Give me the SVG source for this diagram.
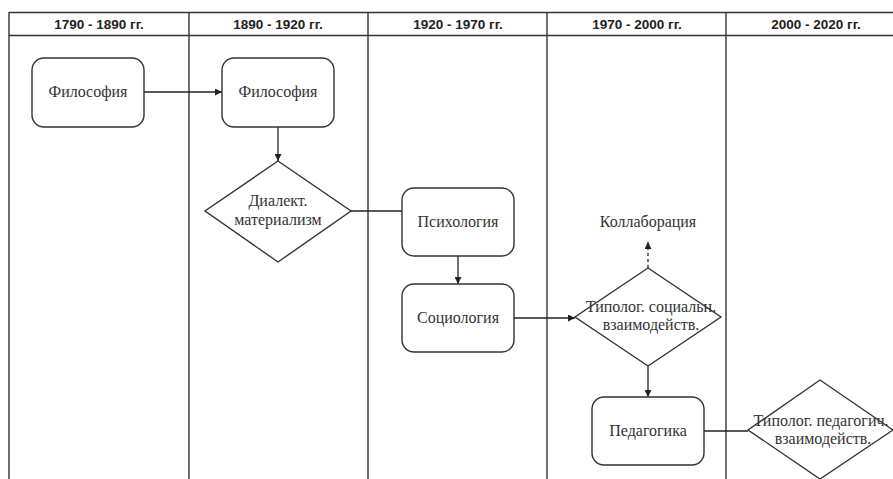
<svg xmlns="http://www.w3.org/2000/svg" width="893" height="479" viewBox="0 0 893 479">
<style>
.grid{stroke:#333;stroke-width:1.4;fill:none}
.hdr{font-family:"Liberation Sans",Arial,sans-serif;font-size:13.5px;font-weight:bold;fill:#222;text-anchor:middle}
.box{fill:#fff;stroke:#333;stroke-width:1.4}
.lbl{font-family:"Liberation Serif","Times New Roman",serif;font-size:16px;fill:#333;text-anchor:middle}
.edge{stroke:#222;stroke-width:1.3;fill:none}
</style>
<defs>
<marker id="arr" viewBox="0 0 10 10" refX="10" refY="5" markerWidth="7" markerHeight="7" markerUnits="userSpaceOnUse" orient="auto">
<path d="M0,0 L10,5 L0,10 z" fill="#222"/>
</marker>
</defs>
<rect width="893" height="479" fill="#fff"/>
<g id="lanes">
<line class="grid" x1="9" y1="12.5" x2="893" y2="12.5"/>
<line class="grid" x1="9" y1="35.5" x2="893" y2="35.5"/>
<line class="grid" x1="9" y1="12" x2="9" y2="479"/>
<line class="grid" x1="189" y1="12" x2="189" y2="479"/>
<line class="grid" x1="368" y1="12" x2="368" y2="479"/>
<line class="grid" x1="547" y1="12" x2="547" y2="479"/>
<line class="grid" x1="726" y1="12" x2="726" y2="479"/>
<text class="hdr" x="99" y="29">1790 - 1890 гг.</text>
<text class="hdr" x="278" y="29">1890 - 1920 гг.</text>
<text class="hdr" x="458" y="29">1920 - 1970 гг.</text>
<text class="hdr" x="637" y="29">1970 - 2000 гг.</text>
<text class="hdr" x="816" y="29">2000 - 2020 гг.</text>
</g>
<g id="connectors">
<line class="edge" x1="144" y1="92" x2="222" y2="92" marker-end="url(#arr)"/>
<line class="edge" x1="278" y1="127" x2="278" y2="161" marker-end="url(#arr)"/>
<line class="edge" x1="351" y1="211" x2="402" y2="211"/>
<line class="edge" x1="458" y1="256" x2="458" y2="284" marker-end="url(#arr)"/>
<line class="edge" x1="514" y1="318" x2="575" y2="318" marker-end="url(#arr)"/>
<line class="edge" x1="648" y1="268" x2="648" y2="242" stroke-dasharray="3,3" marker-end="url(#arr)"/>
<line class="edge" x1="648" y1="366" x2="648" y2="397" marker-end="url(#arr)"/>
<line class="edge" x1="704" y1="431" x2="748" y2="431"/>
</g>
<g id="n1">
<rect class="box" x="32" y="58" width="112" height="69" rx="12"/>
<text class="lbl" x="88" y="97">Философия</text>
</g>
<g id="n2">
<rect class="box" x="222" y="58" width="112" height="69" rx="12"/>
<text class="lbl" x="278" y="97">Философия</text>
</g>
<g id="n3">
<polygon class="box" points="278,161 351,211 278,262 205,211"/>
<text class="lbl" x="278" y="206">Диалект.</text>
<text class="lbl" x="278" y="225">материализм</text>
</g>
<g id="n4">
<rect class="box" x="402" y="188" width="112" height="68" rx="12"/>
<text class="lbl" x="458" y="227">Психология</text>
</g>
<g id="n5">
<rect class="box" x="402" y="284" width="112" height="68" rx="12"/>
<text class="lbl" x="458" y="323">Социология</text>
</g>
<g id="n6">
<polygon class="box" points="648,268 721,317 648,366 575,317"/>
<text class="lbl" x="651" y="312">Типолог. социальн.</text>
<text class="lbl" x="651" y="330">взаимодейств.</text>
</g>
<g id="n7">
<text class="lbl" x="648" y="227">Коллаборация</text>
</g>
<g id="n8">
<rect class="box" x="592" y="397" width="112" height="68" rx="12"/>
<text class="lbl" x="648" y="436">Педагогика</text>
</g>
<g id="n9">
<polygon class="box" points="820,380 893,430 820,479 748,430"/>
<text class="lbl" x="821" y="426">Типолог. педагогич.</text>
<text class="lbl" x="823" y="444">взаимодейств.</text>
</g>
</svg>
